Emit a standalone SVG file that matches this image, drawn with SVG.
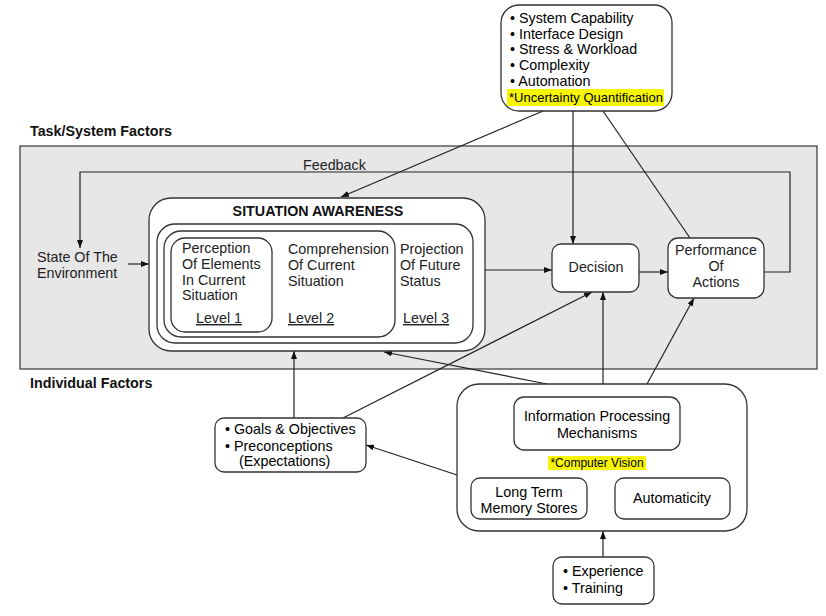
<svg xmlns="http://www.w3.org/2000/svg" width="826" height="616" viewBox="0 0 826 616">
<defs>
<marker id="arr" markerWidth="8" markerHeight="6" refX="8" refY="3" orient="auto" markerUnits="userSpaceOnUse">
<path d="M0,0 L8,3 L0,6 z" fill="#111"/>
</marker>
<style>
.t{font-family:"Liberation Sans",Arial,sans-serif;font-size:14.3px;fill:#222}
.b{font-family:"Liberation Sans",Arial,sans-serif;font-size:14.3px;font-weight:bold;fill:#111}
.dk{fill:#000}
.c{text-anchor:middle}
.box{fill:#fff;stroke:#333;stroke-width:1.3}
.hl{fill:#f7f500}
.ln{fill:none;stroke:#222;stroke-width:1.2}
.u{text-decoration:underline}
</style>
</defs>
<rect width="826" height="616" fill="#fff"/>
<rect id="panel" x="20" y="146" width="797" height="223" fill="#e7e7e7" stroke="#444" stroke-width="1.3"/>
<text class="b" x="30" y="136">Task/System Factors</text>
<text class="b" x="30" y="388">Individual Factors</text>

<g id="connectors">
<line class="ln" x1="543" y1="111" x2="341" y2="197" marker-end="url(#arr)"/>
<line class="ln" x1="573" y1="111" x2="573" y2="244" marker-end="url(#arr)"/>
<line class="ln" x1="603" y1="111" x2="690" y2="238"/>
<path class="ln" d="M764 272 H790 V172 H80 V248" marker-end="url(#arr)"/>
<line class="ln" x1="128" y1="264" x2="149" y2="264" marker-end="url(#arr)"/>
<line class="ln" x1="485" y1="270" x2="552" y2="270" marker-end="url(#arr)"/>
<line class="ln" x1="639" y1="272" x2="668" y2="272" marker-end="url(#arr)"/>
<line class="ln" x1="294" y1="418" x2="294" y2="351" marker-end="url(#arr)"/>
<line class="ln" x1="343" y1="418" x2="592" y2="292" marker-end="url(#arr)"/>
<line class="ln" x1="547" y1="384" x2="384" y2="352" marker-end="url(#arr)"/>
<line class="ln" x1="603" y1="384" x2="603" y2="292" marker-end="url(#arr)"/>
<line class="ln" x1="647" y1="384" x2="694" y2="298" marker-end="url(#arr)"/>
<line class="ln" x1="457" y1="475" x2="366" y2="445" marker-end="url(#arr)"/>
<line class="ln" x1="603" y1="557" x2="603" y2="531" marker-end="url(#arr)"/>
<text class="t" x="303" y="170">Feedback</text>
</g>

<g id="task-factors">
<rect class="box" x="501" y="5" width="171" height="106" rx="18"/>
<text class="t dk" x="510" y="23">• System Capability</text>
<text class="t dk" x="510" y="39">• Interface Design</text>
<text class="t dk" x="510" y="54">• Stress &amp; Workload</text>
<text class="t dk" x="510" y="70">• Complexity</text>
<text class="t dk" x="510" y="86">• Automation</text>
<rect class="hl" x="507" y="89" width="157" height="17"/>
<text class="t dk" x="509" y="102" style="font-size:13px">*Uncertainty Quantification</text>
</g>

<g id="state-env">
<text class="t" x="37" y="262">State Of The</text>
<text class="t" x="37" y="278">Environment</text>
</g>

<g id="situation-awareness">
<rect class="box" x="149" y="198" width="336" height="153" rx="22"/>
<rect class="box" x="157" y="224" width="316" height="119" rx="18"/>
<rect class="box" x="164" y="231" width="231" height="106" rx="17"/>
<rect class="box" x="171" y="238" width="101" height="94" rx="14"/>
<text class="b c" x="318" y="216">SITUATION AWARENESS</text>
<text class="t" x="182" y="253">Perception</text>
<text class="t" x="182" y="269">Of Elements</text>
<text class="t" x="182" y="285">In Current</text>
<text class="t" x="182" y="300">Situation</text>
<text class="t c u" x="219" y="323">Level 1</text>
<text class="t" x="288" y="254">Comprehension</text>
<text class="t" x="288" y="270">Of Current</text>
<text class="t" x="288" y="286">Situation</text>
<text class="t u" x="288" y="323">Level 2</text>
<text class="t" x="400" y="254">Projection</text>
<text class="t" x="400" y="270">Of Future</text>
<text class="t" x="400" y="286">Status</text>
<text class="t u" x="403" y="323">Level 3</text>
</g>

<g id="decision">
<rect class="box" x="552" y="244" width="87" height="48" rx="9"/>
<text class="t c" x="596" y="272">Decision</text>
</g>

<g id="performance">
<rect class="box" x="668" y="238" width="96" height="60" rx="10"/>
<text class="t c" x="716" y="255">Performance</text>
<text class="t c" x="716" y="271">Of</text>
<text class="t c" x="716" y="287">Actions</text>
</g>

<g id="goals">
<rect class="box" x="215" y="418" width="151" height="54" rx="9"/>
<text class="t dk" x="225" y="434">• Goals &amp; Objectives</text>
<text class="t dk" x="225" y="451">• Preconceptions</text>
<text class="t dk" x="239" y="466">(Expectations)</text>
</g>

<g id="individual">
<rect class="box" x="457" y="384" width="290" height="147" rx="22"/>
<rect class="box" x="514" y="397" width="166" height="53" rx="10"/>
<text class="t c dk" x="597" y="421">Information Processing</text>
<text class="t c dk" x="597" y="438">Mechanisms</text>
<rect class="hl" x="548" y="456" width="98" height="14"/>
<text class="t c dk" x="597" y="467" style="font-size:12px">*Computer Vision</text>
<rect class="box" x="471" y="478" width="116" height="41" rx="9"/>
<text class="t c dk" x="529" y="497">Long Term</text>
<text class="t c dk" x="529" y="513">Memory Stores</text>
<rect class="box" x="615" y="478" width="115" height="41" rx="9"/>
<text class="t c dk" x="672" y="503">Automaticity</text>
</g>

<g id="experience">
<rect class="box" x="553" y="557" width="101" height="47" rx="9"/>
<text class="t dk" x="563" y="576">• Experience</text>
<text class="t dk" x="563" y="593">• Training</text>
</g>
</svg>
